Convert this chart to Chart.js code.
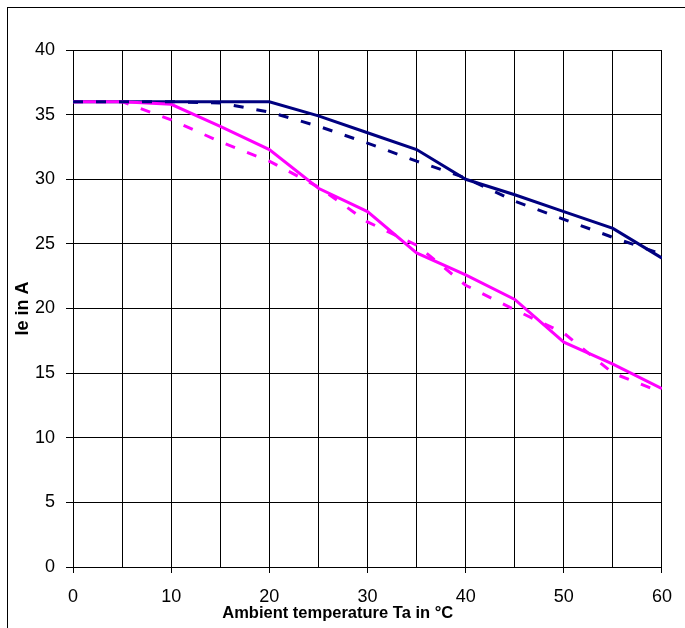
<!DOCTYPE html>
<html>
<head>
<meta charset="utf-8">
<title>Ie vs ambient temperature</title>
<script src="https://cdn.jsdelivr.net/npm/chart.js@4.4.0/dist/chart.umd.min.js"></script>
<style>
  body { margin: 0; background: #fff; }
  .frame { position: absolute; left: 7px; top: 7px; width: 720px; height: 720px; border: 1px solid #000; }
  #myChart { position: absolute; left: 0; top: 0; }
</style>
</head>
<body>
<div class="frame"></div>
<canvas id="myChart" width="685" height="628"></canvas>
<script>
// values
const temps = [0, 5, 10, 15, 20, 25, 30, 35, 40, 45, 50, 55, 60];
const navySolid = [36.0, 36.0, 36.0, 36.0, 36.0, 34.9, 33.6, 32.3, 30.0, 28.8, 27.5, 26.2, 23.9];
const navyDashed = [36.0, 36.0, 36.0, 35.9, 35.2, 34.1, 32.8, 31.4, 30.1, 28.3, 26.9, 25.5, 24.2];
const magentaSolid = [36.0, 36.0, 35.8, 34.1, 32.3, 29.3, 27.5, 24.3, 22.6, 20.7, 17.4, 15.7, 13.8];
const magentaDashed = [36.0, 36.0, 34.6, 32.9, 31.4, 29.4, 26.7, 24.9, 21.8, 19.9, 18.1, 15.0, 13.5];
const xTickLabels = [0, 10, 20, 30, 40, 50, 60];

const font = 'Liberation Sans, Arial, sans-serif';

function pts(ys) {
  return temps.map((t, i) => ({x: t, y: ys[i]}));
}

function line(ys, color, dashed) {
  return {
    data: pts(ys),
    borderColor: color,
    borderWidth: 3,
    borderDash: dashed ? [10, 13] : [],
    borderCapStyle: 'butt',
    pointRadius: 0,
    tension: 0,
    fill: false
  };
}

window.onload = function() {
  new Chart(document.getElementById('myChart'), {
    type: 'line',
    data: {
      datasets: [
        line(navyDashed, '#000080', true),
        line(magentaSolid, '#FF00FF', false),
        line(magentaDashed, '#FF00FF', true),
        line(navySolid, '#000080', false)
      ]
    },
    options: {
      responsive: false,
      devicePixelRatio: 1,
      animation: false,
      layout: { padding: { left: 0, right: 22, top: 50, bottom: 0 } },
      plugins: { legend: { display: false }, tooltip: { enabled: false } },
      scales: {
        x: {
          type: 'linear',
          min: 0,
          max: 60,
          afterFit: function(scale) { scale.height = 61; },
          border: { color: '#000', width: 1 },
          grid: {
            color: '#000',
            lineWidth: 1,
            tickLength: 6,
            // tick marks only under the labelled values
            tickColor: function(ctx) {
              return xTickLabels.includes(ctx.tick.value) ? '#000' : 'rgba(0,0,0,0)';
            }
          },
          ticks: {
            stepSize: 5,
            autoSkip: false,
            maxRotation: 0,
            padding: 13,
            color: '#000',
            font: { family: font, size: 18 },
            callback: function(v) { return xTickLabels.includes(v) ? String(v) : ''; }
          },
          title: {
            display: true,
            // trailing spaces pull the centred title a bit to the left, as in the original
            text: 'Ambient temperature Ta in °C' + '\u00a0'.repeat(13),
            color: '#000',
            font: { family: font, size: 16.5, weight: 'bold' },
            padding: { top: 0, bottom: 5 }
          }
        },
        y: {
          min: 0,
          max: 40,
          afterFit: function(scale) { scale.width = 73; },
          border: { color: '#000', width: 1 },
          grid: { color: '#000', lineWidth: 1, tickLength: 7, tickColor: '#000' },
          ticks: {
            stepSize: 5,
            padding: 11,
            color: '#000',
            font: { family: font, size: 18 }
          },
          title: {
            display: true,
            text: 'Ie in A',
            color: '#000',
            font: { family: font, size: 18, weight: 'bold' },
            padding: { top: 12, bottom: 0 }
          }
        }
      }
    }
  });
};
</script>
</body>
</html>
